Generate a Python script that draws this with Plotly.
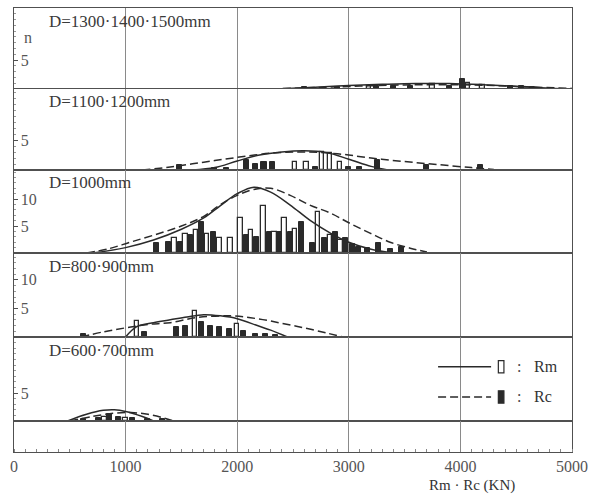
import plotly.graph_objects as go
from plotly.subplots import make_subplots

# ---------------- data ----------------
panel_titles = ["D=1300·1400·1500mm", "D=1100·1200mm", "D=1000mm", "D=800·900mm", "D=600·700mm"]
panel_ymax = [14.0, 13.5, 15.4, 14.7, 15.0]
panel_yticks = [[5], [5], [5, 10], [5, 10], [5]]

# D=1300·1400·1500
p1_rm_curve_x = [2350, 2700, 3000, 3300, 3600, 3900, 4200, 4500, 4800, 5000]
p1_rm_curve_y = [0, 0.3, 0.6, 0.8, 0.95, 0.95, 0.75, 0.45, 0.15, 0.05]
p1_rc_curve_x = [2300, 2700, 3100, 3500, 3900, 4300, 4700, 5000]
p1_rc_curve_y = [0, 0.25, 0.5, 0.7, 0.75, 0.6, 0.3, 0.1]
p1_rm_x = [3180, 3750, 4070, 4200]
p1_rm_n = [0.6, 0.8, 1.0, 0.7]
p1_rc_x = [2600, 2900, 3250, 3400, 3550, 3900, 4020, 4450, 4550, 4650]
p1_rc_n = [0.3, 0.4, 0.6, 0.5, 0.6, 0.5, 1.8, 0.5, 0.5, 0.4]

# D=1100·1200
p2_rm_curve_x = [1600, 1800, 2000, 2200, 2400, 2600, 2800, 3000, 3200, 3350]
p2_rm_curve_y = [0, 0.4, 1.5, 2.5, 3.0, 3.2, 2.9, 1.8, 0.6, 0]
p2_rc_curve_x = [1150, 1400, 1700, 2000, 2300, 2600, 2900, 3200, 3500, 3800, 4100, 4300]
p2_rc_curve_y = [0, 0.5, 1.3, 2.1, 2.8, 3.0, 2.7, 2.0, 1.4, 0.9, 0.4, 0.1]
p2_rm_x = [2520, 2620, 2760, 2830, 2920]
p2_rm_n = [1.4, 1.4, 3.0, 2.8, 1.3]
p2_rc_x = [1480, 1800, 1900, 2080, 2160, 2240, 2320, 2700, 3000, 3100, 3260, 3700, 4180]
p2_rc_n = [0.8, 0.3, 0.3, 1.6, 1.0, 1.4, 1.4, 0.5, 0.5, 0.5, 1.7, 0.8, 0.8]

# D=1000
p3_rm_curve_x = [700, 1000, 1250, 1500, 1700, 1850, 2000, 2150, 2300, 2475, 2650, 2835, 3000, 3200, 3400]
p3_rm_curve_y = [0, 1.0, 2.4, 4.4, 6.5, 8.8, 11.0, 12.2, 11.3, 8.9, 6.1, 3.7, 2.0, 0.7, 0]
p3_rc_curve_x = [650, 850, 1040, 1250, 1500, 1700, 1850, 2000, 2150, 2300, 2475, 2650, 2835, 3010, 3190, 3370, 3550, 3700]
p3_rc_curve_y = [0, 0.8, 2.0, 3.3, 5.0, 6.8, 9.0, 10.7, 11.8, 12.0, 10.7, 8.9, 7.4, 5.5, 3.7, 2.0, 0.9, 0.2]
p3_rm_x = [1440, 1535, 1630, 1730, 1840, 1940, 2030, 2125, 2235, 2335, 2425, 2520, 2725, 2830, 2925]
p3_rm_n = [2.8, 3.5, 4.3, 3.5, 2.8, 2.8, 6.5, 4.3, 8.7, 3.9, 6.5, 4.4, 7.6, 3.3, 2.4]
p3_rc_x = [1280, 1385, 1490, 1585, 1680, 1785, 2080, 2175, 2285, 2380, 2475, 2580, 2675, 2785, 2880, 2970,
           3035, 3085, 3170, 3270, 3370, 3475]
p3_rc_n = [1.9, 2.0, 2.0, 3.3, 5.7, 3.9, 3.3, 3.0, 3.9, 3.9, 3.9, 5.7, 1.9, 2.8, 3.9, 2.8,
           1.7, 1.2, 1.0, 1.9, 0.8, 1.1]

# D=800·900
p4_rm_curve_x = [1000, 1100, 1250, 1400, 1550, 1700, 1850, 2000, 2180, 2300, 2450]
p4_rm_curve_y = [0, 1.8, 2.5, 3.0, 3.5, 3.9, 3.7, 3.2, 2.0, 1.2, 0]
p4_rc_curve_x = [600, 800, 1000, 1200, 1400, 1640, 1940, 2180, 2400, 2600, 2800, 2950]
p4_rc_curve_y = [0, 0.9, 1.6, 2.2, 2.5, 3.4, 3.7, 3.2, 2.4, 1.6, 0.7, 0]
p4_rm_x = [1100, 1620, 2000]
p4_rm_n = [2.8, 4.6, 2.2]
p4_rc_x = [620, 1170, 1460, 1540, 1680, 1760, 1840, 1930, 2060, 2160, 2250, 2340]
p4_rc_n = [0.5, 0.8, 1.8, 2.0, 2.6, 2.0, 1.7, 1.4, 1.0, 0.6, 0.5, 0.4]

# D=600·700
p5_rm_curve_x = [480, 650, 800, 900, 1000, 1150, 1250]
p5_rm_curve_y = [0, 1.2, 1.9, 2.0, 1.7, 0.8, 0]
p5_rc_curve_x = [500, 700, 900, 1050, 1200, 1350, 1430]
p5_rc_curve_y = [0, 0.8, 1.4, 1.5, 1.2, 0.5, 0]
p5_rm_x = [810, 1000]
p5_rm_n = [0.8, 0.5]
p5_rc_x = [620, 760, 860, 940, 1060, 1200, 1330]
p5_rc_n = [0.4, 0.6, 1.2, 0.8, 0.6, 0.4, 0.3]

x_ticks = [0, 1000, 2000, 3000, 4000, 5000]
x_title = "Rm · Rc (KN)"
legend_labels = ["Rm", "Rc"]

panels = [
    (p1_rm_curve_x, p1_rm_curve_y, p1_rc_curve_x, p1_rc_curve_y, p1_rm_x, p1_rm_n, p1_rc_x, p1_rc_n),
    (p2_rm_curve_x, p2_rm_curve_y, p2_rc_curve_x, p2_rc_curve_y, p2_rm_x, p2_rm_n, p2_rc_x, p2_rc_n),
    (p3_rm_curve_x, p3_rm_curve_y, p3_rc_curve_x, p3_rc_curve_y, p3_rm_x, p3_rm_n, p3_rc_x, p3_rc_n),
    (p4_rm_curve_x, p4_rm_curve_y, p4_rc_curve_x, p4_rc_curve_y, p4_rm_x, p4_rm_n, p4_rc_x, p4_rc_n),
    (p5_rm_curve_x, p5_rm_curve_y, p5_rc_curve_x, p5_rc_curve_y, p5_rm_x, p5_rm_n, p5_rc_x, p5_rc_n),
]

# ---------------- figure ----------------
INK = "#2a2a2a"
FRAME = "#505050"
GRID = "#8a8a8a"
FONT = "Liberation Serif"

fig = make_subplots(rows=6, cols=1, shared_xaxes=True, vertical_spacing=0,
                    row_heights=[81, 81, 83, 84, 84, 31])

for i, (rmcx, rmcy, rccx, rccy, rmx, rmn, rcx, rcn) in enumerate(panels):
    r = i + 1
    fig.add_trace(go.Bar(x=rcx, y=rcn, width=45,
                         marker=dict(color=INK, line=dict(color=INK, width=1))), row=r, col=1)
    fig.add_trace(go.Bar(x=rmx, y=rmn, width=40,
                         marker=dict(color="white", line=dict(color=INK, width=1.3))), row=r, col=1)
    fig.add_trace(go.Scatter(x=rccx, y=rccy, mode="lines",
                             line=dict(color=INK, width=1.5, dash="8px,4px", shape="spline")), row=r, col=1)
    fig.add_trace(go.Scatter(x=rmcx, y=rmcy, mode="lines",
                             line=dict(color=INK, width=1.5, shape="spline")), row=r, col=1)

# bottom empty strip (keeps axis for ticks)
fig.add_trace(go.Scatter(x=[None], y=[None], mode="lines"), row=6, col=1)

for r in range(1, 7):
    fig.update_xaxes(range=[0, 5000], tickvals=x_ticks, showgrid=True, gridcolor=GRID, gridwidth=1,
                     showline=True, mirror=True, linecolor=FRAME, linewidth=1,
                     zeroline=False, showticklabels=(r == 6), ticks="", row=r, col=1)
    if r <= 5:
        fig.update_yaxes(range=[0, panel_ymax[r - 1]], tickvals=panel_yticks[r - 1],
                         ticks="inside", ticklen=4, tickcolor=FRAME,
                         ticklabelposition="inside", ticklabelstandoff=3,
                         showgrid=False, zeroline=False,
                         showline=True, mirror=True, linecolor=FRAME, linewidth=1,
                         minor=dict(ticks="inside", dtick=1, ticklen=2, tickcolor="#999"),
                         tickfont=dict(family=FONT, size=16, color="#555"),
                         row=r, col=1)
    else:
        fig.update_yaxes(range=[0, 1], showticklabels=False, ticks="", showgrid=False, zeroline=False,
                         showline=True, mirror=True, linecolor=FRAME, linewidth=1, row=r, col=1)

fig.update_xaxes(tickfont=dict(family=FONT, size=16, color="#555"),
                 minor=dict(ticks="inside", dtick=100, ticklen=3, tickcolor="#888"),
                 row=6, col=1)

annotations = []
for i, t in enumerate(panel_titles):
    yref = "y domain" if i == 0 else f"y{i+1} domain"
    annotations.append(dict(text=t, xref="paper", x=0.059, xanchor="left",
                            yref=yref, y=1, yshift=-13, yanchor="middle", showarrow=False,
                            font=dict(family=FONT, size=17, color="#3a3a3a")))
annotations.append(dict(text="n", xref="paper", x=0.014, xanchor="left",
                        yref="y domain", y=1, yshift=-29, yanchor="middle", showarrow=False,
                        font=dict(family=FONT, size=16, color="#555")))
annotations.append(dict(text=x_title, xref="paper", x=0.740, xanchor="left",
                        yref="paper", y=-0.076, yanchor="middle", showarrow=False,
                        font=dict(family=FONT, size=15, color="#333")))

# legend (inside bottom panel)
shapes = []
leg_rows = [(0.192, "solid", "white", legend_labels[0]), (0.124, "8px,4px", INK, legend_labels[1])]
for yy, dash, fill, lab in leg_rows:
    shapes.append(dict(type="line", xref="paper", yref="paper", x0=0.760, x1=0.855, y0=yy, y1=yy,
                       line=dict(color=INK, width=1.5, dash=dash)))
    shapes.append(dict(type="rect", xref="paper", yref="paper", x0=0.868, x1=0.878,
                       y0=yy - 0.014, y1=yy + 0.014, fillcolor=fill, line=dict(color=INK, width=1.2)))
    annotations.append(dict(text=":", xref="paper", x=0.905, xanchor="center", yref="paper", y=yy,
                            yanchor="middle", showarrow=False, font=dict(family=FONT, size=16, color="#444")))
    annotations.append(dict(text=lab, xref="paper", x=0.928, xanchor="left", yref="paper", y=yy,
                            yanchor="middle", showarrow=False, font=dict(family=FONT, size=16, color="#333")))

fig.update_layout(width=601, height=497, margin=dict(l=14, r=29, t=8, b=45),
                  paper_bgcolor="white", plot_bgcolor="white", showlegend=False,
                  barmode="overlay", bargap=0, font=dict(family=FONT),
                  annotations=annotations, shapes=shapes)

fig.write_html("out.html")
